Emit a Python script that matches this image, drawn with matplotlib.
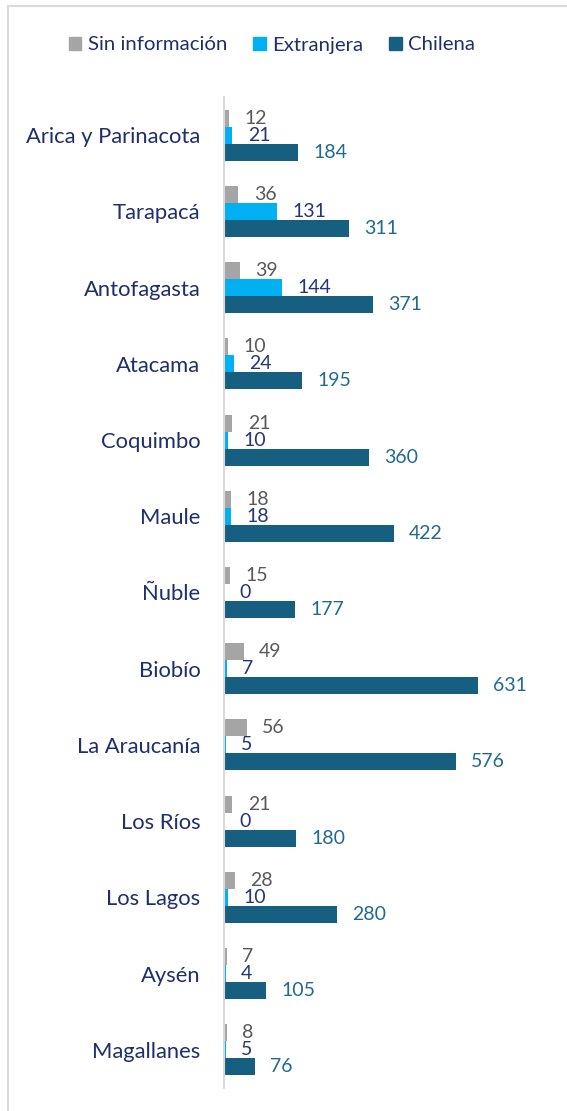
import matplotlib.pyplot as plt
from matplotlib.patches import Rectangle, Patch
import numpy as np

# Data
regiones = ['Arica y Parinacota', 'Tarapacá', 'Antofagasta', 'Atacama', 'Coquimbo',
            'Maule', 'Ñuble', 'Biobío', 'La Araucanía', 'Los Ríos', 'Los Lagos',
            'Aysén', 'Magallanes']
sin_info = [12, 36, 39, 10, 21, 18, 15, 49, 56, 21, 28, 7, 8]
extranjera = [21, 131, 144, 24, 10, 18, 0, 7, 5, 0, 10, 4, 5]
chilena = [184, 311, 371, 195, 360, 422, 177, 631, 576, 180, 280, 105, 76]

series = ['Sin información', 'Extranjera', 'Chilena']
bar_colors = ['#A5A5A5', '#00B0F0', '#175F80']
label_colors = ['#595959', '#24357A', '#20698F']
navy = '#1F2F6B'

plt.rcParams['font.family'] = ['Lato', 'DejaVu Sans']

W, H = 567, 1111
fig = plt.figure(figsize=(W / 100, H / 100), dpi=100)

# light frame (top and left edges visible)
fig.patches.append(Rectangle((8 / W, -0.1), 1.2, 1 - 6 / H + 0.1, transform=fig.transFigure,
                             fill=False, edgecolor='#D9D9D9', linewidth=1.5))

ax = fig.add_axes([224 / W, 1 - 1088 / H, 322 / W, 991 / H])

y = np.arange(len(regiones))
h = 0.223
for k, (vals, c, lc) in enumerate(zip([sin_info, extranjera, chilena], bar_colors, label_colors)):
    pos = y + (k - 1) * h
    ax.barh(pos, vals, height=h, color=c)
    for p, v in zip(pos, vals):
        ax.annotate(str(v), (v, p), xytext=(11, 0), textcoords='offset points',
                    ha='left', va='center', fontsize=14, color=lc)

ax.set_xlim(0, 800)
ax.set_ylim(len(regiones) - 0.5, -0.5)
ax.set_yticks(y)
ax.set_yticklabels(regiones, fontsize=15.8, color=navy)
ax.tick_params(axis='y', length=0, pad=17)
ax.set_xticks([])
for s in ['top', 'right', 'bottom']:
    ax.spines[s].set_visible(False)
ax.spines['left'].set_color('#D9D9D9')
ax.spines['left'].set_linewidth(1.5)

handles = [Patch(color=c, label=s) for s, c in zip(series, bar_colors)]
leg = fig.legend(handles=handles, loc='center', bbox_to_anchor=(272 / W, 1 - 45 / H),
                 ncol=3, frameon=False, fontsize=14.7, handlelength=0.6, handleheight=0.6,
                 handletextpad=0.3, columnspacing=1.3)
for t in leg.get_texts():
    t.set_color(navy)

fig.savefig('out.png', dpi=100)
